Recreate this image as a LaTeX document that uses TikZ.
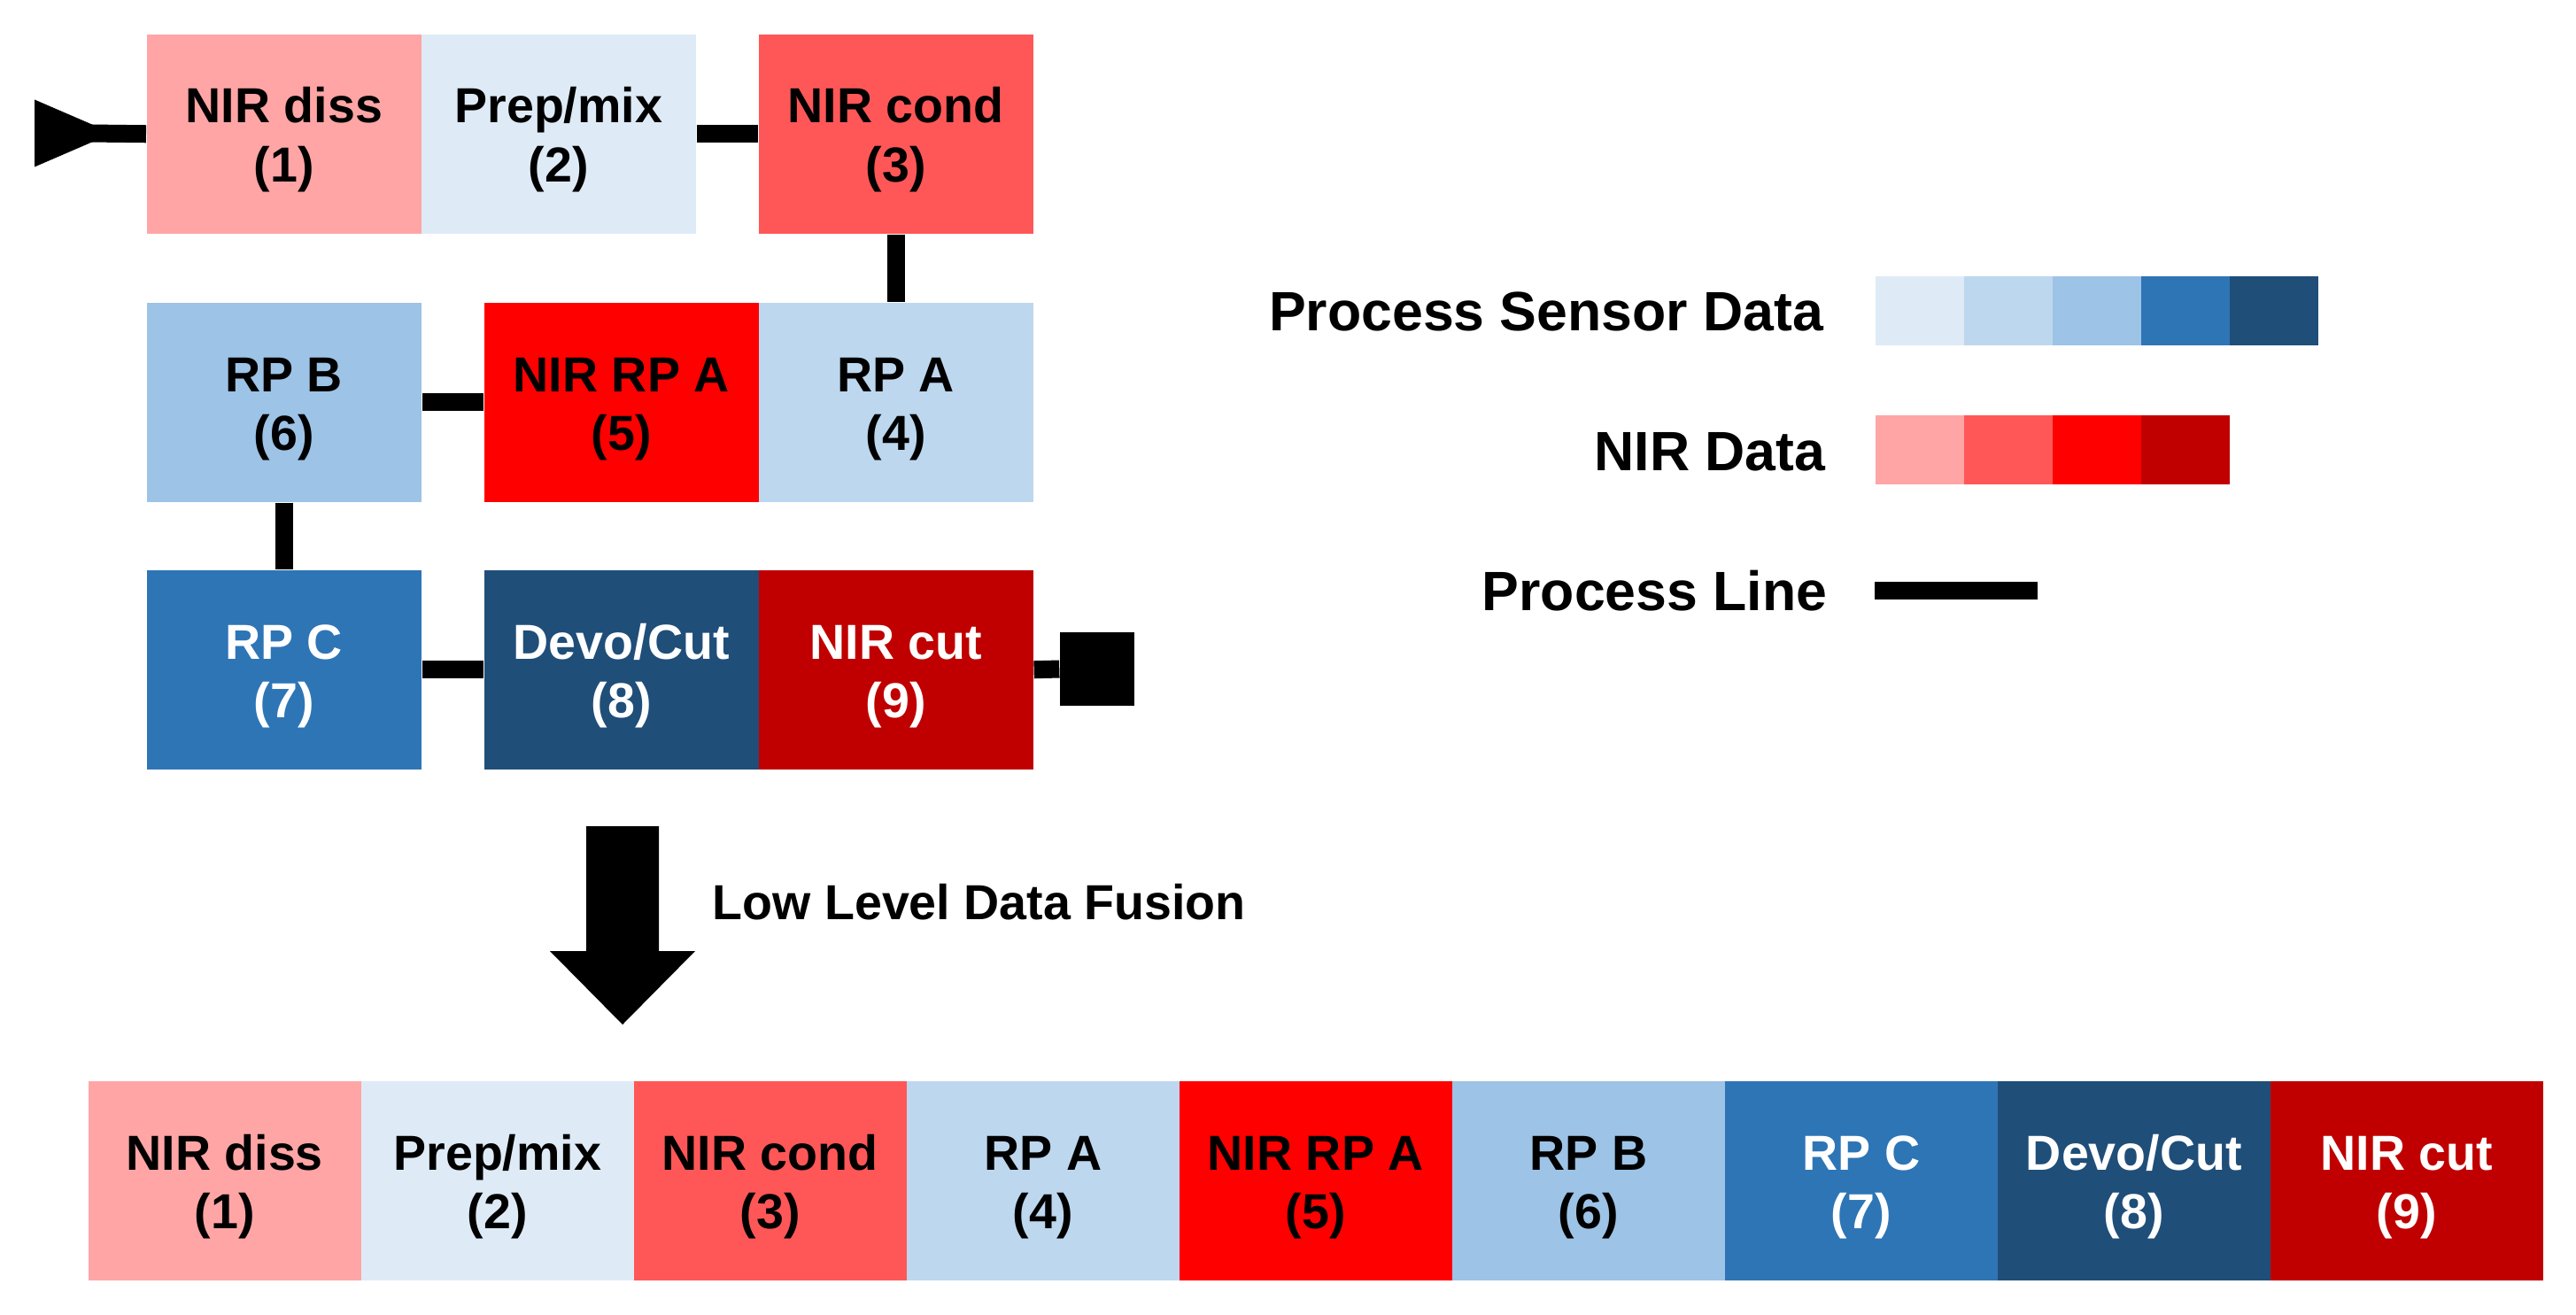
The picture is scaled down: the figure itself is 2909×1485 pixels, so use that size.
\documentclass[tikz,border=0pt]{standalone}
\usepackage{fontspec}
\setmainfont{Liberation Sans}
\usetikzlibrary{positioning}
\definecolor{nirA}{HTML}{FFA5A5}
\definecolor{nirB}{HTML}{FF5757}
\definecolor{nirC}{HTML}{FF0000}
\definecolor{nirD}{HTML}{C00000}
\definecolor{psdA}{HTML}{DEEBF7}
\definecolor{psdB}{HTML}{BDD7EE}
\definecolor{psdC}{HTML}{9DC3E6}
\definecolor{psdD}{HTML}{2E75B6}
\definecolor{psdE}{HTML}{1F4E79}
\newcommand{\st}{\rule{0pt}{15.3pt}}

\begin{document}
\begin{tikzpicture}[x=0.01cm,y=-0.01cm,
    stage/.style={rectangle,inner sep=0pt,minimum width=3.1cm,minimum height=2.25cm,anchor=north west,align=center,font=\fontsize{15.8}{19}\selectfont\bfseries},
    fused/.style={stage,minimum width=3.08cm},
    swatch/.style={rectangle,inner sep=0pt,minimum width=1cm,minimum height=0.78cm,anchor=west},
    legtext/.style={inner sep=0pt,anchor=east,font=\fontsize{17.8}{21}\selectfont\bfseries},
    procline/.style={line width=0.2cm}]
  \useasboundingbox (0,0) rectangle (2909,1485);
  % process flow
  \node[stage,fill=nirA] (diss) at (165,38) {\st NIR diss\\(1)};
  \node[stage,fill=psdA] (prep) at (475,38) {\st Prep/mix\\(2)};
  \node[stage,fill=nirB] (cond) at (856,38) {\st NIR cond\\(3)};
  \node[stage,fill=psdB] (rpa) at (856,341) {\st RP A\\(4)};
  \node[stage,fill=nirC] (nirrpa) at (546,341) {\st NIR RP A\\(5)};
  \node[stage,fill=psdC] (rpb) at (165,341) {\st RP B\\(6)};
  \node[stage,fill=psdD,text=white] (rpc) at (165,643) {\st RP C\\(7)};
  \node[stage,fill=psdE,text=white] (devo) at (546,643) {\st Devo/Cut\\(8)};
  \node[stage,fill=nirD,text=white] (nircut) at (856,643) {\st NIR cut\\(9)};
  \node[fill=black,inner sep=0pt,minimum width=0.84cm,minimum height=0.83cm] (out) at (1239,755.5) {};
  \coordinate (in) at (100,150.5);
  \fill (39,112.5) -- (127,150.5) -- (39,188.5) -- cycle;
  \draw[procline] (in) -- (diss.west);
  \draw[procline] (prep.east) -- (cond.west);
  \draw[procline] (cond.south) -- (rpa.north);
  \draw[procline] (nirrpa.west) -- (rpb.east);
  \draw[procline] (rpb.south) -- (rpc.north);
  \draw[procline] (rpc.east) -- (devo.west);
  \draw[procline] (nircut.east) -- (out.west);
  % legend
  \node[legtext] (psd) at (2060,352) {Process Sensor Data};
  \node[legtext] (nir) at (2062,510) {NIR Data};
  \node[legtext] (pl) at (2064,667) {Process Line};
  \foreach \c [count=\i from 0] in {psdA,psdB,psdC,psdD,psdE}
    \node[swatch,fill=\c] (ps\i) at ({2117+100*\i},351) {};
  \foreach \c [count=\i from 0] in {nirA,nirB,nirC,nirD}
    \node[swatch,fill=\c] (ns\i) at ({2117+100*\i},508) {};
  \draw[procline] ([xshift=0.53cm]pl.east) -- ++(184,0);
  % fusion arrow
  \fill (662,933) -- (744,933) -- (744,1074) -- (785,1074) -- (703,1157) -- (621,1074) -- (662,1074) -- cycle;
  \node[anchor=base west,inner sep=0pt,font=\fontsize{15.8}{19}\selectfont\bfseries] (fusion) at (804,1038) {Low Level Data Fusion};
  % fused row
  \foreach \lab/\num/\col/\tc [count=\i from 0] in {NIR diss/1/nirA/black,{Prep/mix}/2/psdA/black,NIR cond/3/nirB/black,RP A/4/psdB/black,NIR RP A/5/nirC/black,RP B/6/psdC/black,RP C/7/psdD/white,{Devo/Cut}/8/psdE/white,NIR cut/9/nirD/white}
    \node[fused,fill=\col,text=\tc] (f\num) at ({99+308*\i},1220) {\st\lab\\(\num)};
\end{tikzpicture}
\end{document}
